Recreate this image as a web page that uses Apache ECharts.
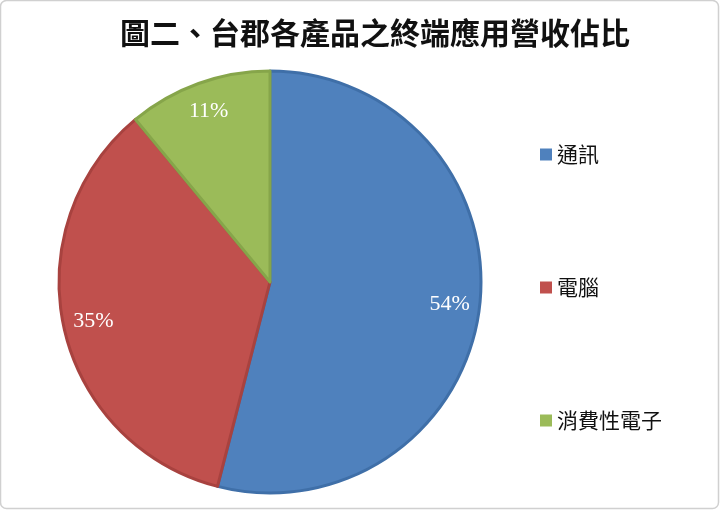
<!DOCTYPE html>
<html><head><meta charset="utf-8">
<script src="https://cdn.jsdelivr.net/npm/echarts@6/dist/echarts.min.js"></script>
<style>html,body{margin:0;padding:0;background:#fff}#c{width:720px;height:511px}</style>
</head><body><div id="c"></div>
<script>
const titleText = '圖二、台郡各產品之終端應用營收佔比';
const categories = ['通訊', '電腦', '消費性電子'];
const values = [54, 35, 11];
const colors = ['#4f81bd', '#c0504d', '#9bbb59'];
const borderColors = ['#3f6fa8', '#a8423f', '#86a54a'];

const chart = echarts.init(document.getElementById('c'));
const pieData = categories.map((n, i) => ({
  name: n, value: values[i],
  itemStyle: { color: colors[i], borderColor: borderColors[i], borderWidth: 3 }
}));
const labelData = categories.map((n, i) => ({ name: n, value: values[i] }));
chart.setOption({
  animation: false,
  backgroundColor: '#fff',
  graphic: [{
    type: 'rect', shape: { x: 0.5, y: 0.5, width: 718, height: 508, r: 6 },
    style: { fill: 'none', stroke: '#d0d0d0', lineWidth: 1.5 }, silent: true, z: -1
  }],
  title: {
    text: titleText, left: 370, textAlign: 'center', top: 13,
    textStyle: { fontFamily: 'Noto Sans CJK TC', fontWeight: 'bold', fontSize: 30, color: '#111' }
  },
  legend: {
    orient: 'vertical', left: 535, top: 139,
    itemWidth: 12, itemHeight: 12, itemGap: 112, icon: 'rect',
    data: categories,
    itemStyle: { borderWidth: 0 },
    textStyle: { fontFamily: 'Noto Sans CJK TC', fontSize: 21, color: '#111' }
  },
  series: [{
    type: 'pie', center: [270, 282], radius: [0, 211],
    startAngle: 90, clockwise: true, silent: true,
    label: { show: false }, labelLine: { show: false },
    data: pieData
  }, {
    type: 'pie', center: [270, 282], radius: [146, 210],
    startAngle: 90, clockwise: true, silent: true,
    itemStyle: { color: 'rgba(0,0,0,0)' },
    label: {
      show: true, position: 'inside', formatter: '{c}%',
      fontFamily: 'Liberation Serif', fontSize: 22, color: '#fff'
    },
    labelLine: { show: false },
    data: labelData
  }]
});
</script></body></html>
